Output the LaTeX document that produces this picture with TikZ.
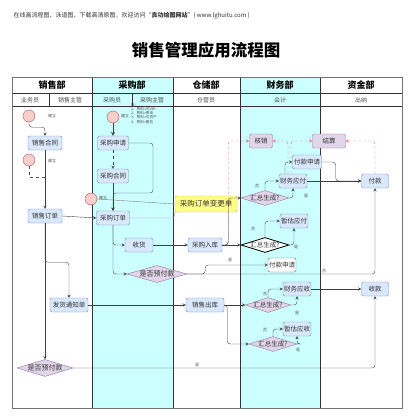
\documentclass[tikz,border=0pt]{standalone}
\usepackage{fontspec}
\setmainfont{Noto Sans CJK SC}
\usetikzlibrary{shapes.geometric}
\definecolor{lanecyan}{HTML}{CCFFFF}
\definecolor{boxblue}{HTML}{DAE8FC}
\definecolor{edgeblue}{HTML}{6C8EBF}
\definecolor{boxlilac}{HTML}{E1D5E7}
\definecolor{edgelilac}{HTML}{9673A6}
\definecolor{startred}{HTML}{F8CECC}
\definecolor{edgered}{HTML}{B85450}
\definecolor{noteyellow}{HTML}{FFFF88}
\definecolor{edgeyellow}{HTML}{D6B656}
\definecolor{linkpink}{HTML}{EA6B66}
\definecolor{linkgray}{HTML}{C49A9A}
\tikzstyle{proc}=[rectangle,rounded corners=2pt,draw=edgeblue,fill=boxblue,text=black!80,font=\fontsize{6.5}{7}\selectfont,minimum height=14pt,inner sep=1pt]
\tikzstyle{gate}=[diamond,draw=edgelilac,fill=boxlilac,inner sep=0pt,minimum width=48pt,minimum height=15pt]
\tikzstyle{gtxt}=[text=black!80,font=\fontsize{6.5}{7}\selectfont]
\tikzstyle{start}=[circle,draw=edgered,fill=startred,minimum size=12pt,inner sep=0pt]
\tikzstyle{flow}=[draw=black!75,->,>=stealth,rounded corners=3pt]
\tikzstyle{link}=[draw=linkpink,densely dashed,->,>=stealth,rounded corners=3pt]
\tikzstyle{tag}=[text=black!70,font=\fontsize{4}{4}\selectfont,inner sep=0pt]
\tikzstyle{lane}=[font=\bfseries\fontsize{9}{9}\selectfont]
\tikzstyle{role}=[text=black!70,font=\fontsize{6}{6}\selectfont]

\begin{document}
\begin{tikzpicture}[x=1pt,y=-1pt]
      \useasboundingbox (0,0) rectangle (413,420);
      \node[anchor=west,text=black!80,font=\fontsize{6}{6}\selectfont] (site) at (10,16) {在线画流程图、泳道图、下载高清原图，欢迎访问“\textbf{良功绘图网站}”( www.lghuitu.com )};
      \node[font=\bfseries\fontsize{16.5}{17}\selectfont] (title) at (206,50) {销售管理应用流程图};

      \fill [lanecyan] (92,77) rectangle (173,408);
      \fill [lanecyan] (240,77) rectangle (320,408);
      \draw [black!80] (12,93) -- (402,93);
      \draw [black!80] (12,106) -- (402,106);
      \draw [black!80] (49,93) -- (49,106);
      \draw [black!80] (132,93) -- (132,106);
      \foreach \x in {92,173,240,320}
        \draw [black!80] (\x,77) -- (\x,408);
      \draw [black!55] (12,77) rectangle (402,408);

      \node[lane] (xsb) at (52,85) {销售部};
      \node[lane] (cgb) at (132,85) {采购部};
      \node[lane] (ccb) at (206,85) {仓储部};
      \node[lane] (cwb) at (280,85) {财务部};
      \node[lane] (zjb) at (361,85) {资金部};
      \node[role] (ywy) at (30,100) {业务员};
      \node[role] (xszg) at (70,100) {销售主管};
      \node[role] (cgy) at (112,100) {采购员};
      \node[role] (cgzg) at (152,100) {采购主管};
      \node[role] (cgyy) at (206,100) {仓管员};
      \node[role] (kj) at (280,100) {会计};
      \node[role] (cn) at (361,100) {出纳};

      \node[start] (s1) at (29,116) {};
      \node[start] (s2) at (29,160) {};
      \node[start] (s3) at (113,117) {};
      \node[start] (s4) at (91,199) {};
      \node[tag] (t1) at (52,116) {建立};
      \node[tag] (t2) at (52,161) {建立};
      \node[tag] (t3) at (125,116) {建立};
      \node[tag] (t4) at (103,198) {建立};
      \node[tag,anchor=north west,align=left,font=\fontsize{3.6}{4.2}\selectfont] (memo) at (131,103) {除:\\1、物料=可VMI\\2、物料=费用\\3、物料=可资产\\4、物料=服务};

      \node[proc,minimum width=34pt] (xsht) at (45,143) {销售合同};
      \node[proc,minimum width=34pt] (xsdd) at (45,216) {销售订单};
      \node[proc,minimum width=38pt] (fhtz) at (69,305) {发货通知单};
      \node[proc,minimum width=31pt] (cgsq) at (113,143) {采购申请};
      \node[proc,minimum width=31pt] (cght) at (113,176) {采购合同};
      \node[proc,minimum width=33pt] (cgdd) at (113,218) {采购订单};
      \node[proc,minimum width=28pt] (shuo) at (139,245) {收货};
      \node[proc,minimum width=34pt] (cgrk) at (205,245) {采购入库};
      \node[proc,minimum width=38pt] (xsck) at (205,305) {销售出库};
      \node[proc,minimum width=28pt] (cwyf) at (293,181) {财务应付};
      \node[proc,minimum width=29pt] (fksq) at (307,162) {付款申请};
      \node[proc,minimum width=27pt] (zgyf) at (294,221) {暂估应付};
      \node[proc,minimum width=28pt,fill=white,draw=black!60] (fksqb) at (282,265) {付款申请};
      \node[proc,minimum width=28pt] (cwys) at (297,289) {财务应收};
      \node[proc,minimum width=27pt] (zgys) at (297,329) {暂估应收};
      \node[proc,minimum width=27pt] (fk) at (375,181) {付款};
      \node[proc,minimum width=27pt] (sk) at (375,289) {收款};
      \node[proc,minimum width=23pt,fill=boxlilac,draw=edgelilac] (hx) at (261,141) {核销};
      \node[proc,minimum width=33pt,fill=boxlilac,draw=edgelilac] (js) at (329,141) {结算};

      \draw [link] (cgrk.east) -- ++(6,0) |- (hx.west);
      \node[proc,minimum width=62pt,minimum height=16pt,fill=noteyellow,draw=edgeyellow,font=\fontsize{7.5}{8}\selectfont] (bgd) at (206,204) {采购订单变更单};

      \node[gate,label={[gtxt]center:汇总生成?}] (g1) at (265,198) {};
      \node[gate,draw=black,thick,fill=white,label={[gtxt]center:汇总生成?}] (g2) at (265,245) {};
      \node[gate,minimum width=45pt,label={[gtxt]center:汇总生成?}] (g3) at (268,305) {};
      \node[gate,label={[gtxt]center:汇总生成?}] (g4) at (273,344) {};
      \node[gate,minimum width=60pt,minimum height=17pt,label={[gtxt,font=\fontsize{7}{7}\selectfont]center:是否预付款}] (yfa) at (157,274) {};
      \node[gate,minimum width=56pt,minimum height=17pt,label={[gtxt,font=\fontsize{7}{7}\selectfont]center:是否预付款}] (yfb) at (45,368) {};

      \coordinate (j1) at (45,177);
      \coordinate (k1) at (153,193);
      \draw [flow] (s1.south) -- ++(0,5) -| (xsht.north);
      \draw [black!70,dashed] (s2.south) |- (j1);
      \draw [flow] (xsht.south) -- (xsdd.north);
      \draw [flow] (xsdd.east) -- (cgdd.west);
      \draw [flow] (xsdd.south) -- (yfb.north);
      \draw [flow] (xsdd.south) -- ++(0,39) -| (fhtz.north);
      \draw [flow] (fhtz.east) -- (xsck.west);
      \draw [flow] (yfb.east) -| (sk.south);
      \node[tag] (l1) at (197,365) {是};

      \draw [flow,thick] (s3.south) -- (cgsq.north);
      \draw [flow,dashed] (cgsq.south) -- (cght.north);
      \draw [flow] (cght.south) -- (cgdd.north);
      \draw [flow] (cgsq.east) -| (k1) -| (cgdd.north);
      \draw [black!50] (s4.east) -- (bgd.west);
      \draw [linkgray,rounded corners=3pt] (cgdd.east) -| (bgd.south west);
      \draw [flow] (cgdd.south) |- (shuo.west);
      \draw [flow] (cgdd.south) |- (yfa.west);
      \draw [flow] (shuo.east) -- (cgrk.west);
      \draw [flow] (cgrk.east) -- ++(6,0) |- (g1.west);
      \draw [flow] (cgrk.east) -- (g2.west);
      \draw [flow] (yfa.east) -- ++(18,0) |- (fksqb.west);
      \draw [flow] (yfa.east) -| (fk.south);
      \node[tag] (l2) at (230,260) {是};
      \node[tag] (l3) at (324,271) {否};

      \draw [flow] (g1.north) |- (cwyf.west);
      \draw [flow] (g1.east) -| (cwyf.south);
      \draw [flow] (g2.north) |- (zgyf.west);
      \draw [flow] (g2.east) -| (zgyf.south);
      \node[tag] (l4) at (257,186) {否};
      \node[tag] (l5) at (306,196) {是};
      \node[tag] (l6) at (253,229) {否};
      \node[tag] (l7) at (296,247) {是};
      \draw [flow] ([xshift=-8pt]cwyf.north) |- (fksq.west);
      \draw [flow] (cwyf.east) -- (fk.west);
      \draw [flow] (fksq.east) -- ++(14,0) |- (fk.west);
      \draw [link] ([xshift=-5pt]cwyf.north) |- (hx.east);
      \draw [link] ([xshift=-2pt]cwyf.north) |- (js.west);
      \draw [link] (fk.north) |- (js.east);

      \draw [flow] (xsck.east) -- (g3.west);
      \draw [flow] (xsck.east) -- ++(3,0) |- (g4.west);
      \draw [flow] (g3.north) |- (cwys.west);
      \draw [flow] (g3.east) -| (cwys.south);
      \draw [flow] (g4.north) |- (zgys.west);
      \draw [flow] (g4.east) -| (zgys.south);
      \draw [flow] (cwys.east) -- (sk.west);
      \node[tag] (l8) at (265,294) {否};
      \node[tag] (l9) at (297,313) {是};
      \node[tag] (l10) at (265,330) {否};
      \node[tag] (l11) at (298,350) {是};
\end{tikzpicture}
\end{document}
